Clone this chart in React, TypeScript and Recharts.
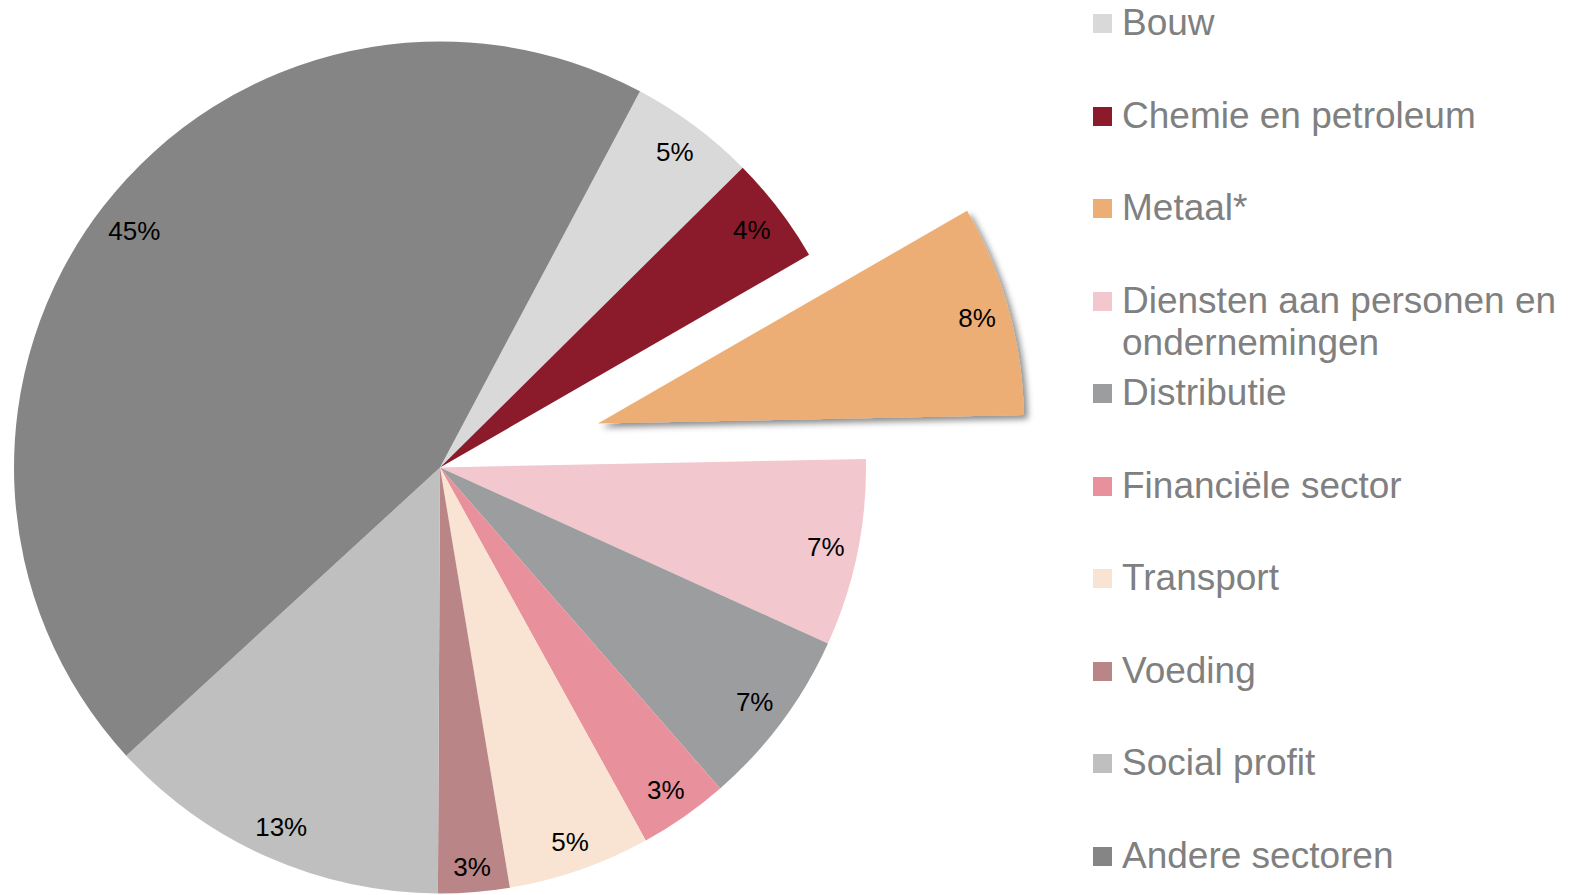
import React from 'react';
import { PieChart, Pie, Cell, Legend } from 'recharts';

const categories = [
  'Bouw',
  'Chemie en petroleum',
  'Metaal*',
  'Diensten aan personen en ondernemingen',
  'Distributie',
  'Financiële sector',
  'Transport',
  'Voeding',
  'Social profit',
  'Andere sectoren',
];
const shares = [4.8, 4.1, 8.0, 7.1, 6.8, 3.4, 5.4, 2.7, 13.1, 44.6];
const colors = [
  '#D9D9D9',
  '#8B1A2B',
  '#EDAE74',
  '#F2C7CE',
  '#9C9D9F',
  '#E8919C',
  '#F9E4D3',
  '#B98586',
  '#BFBFBF',
  '#858585',
];
const explodedName = 'Metaal*';

const data = categories.map((name, i) => ({ name, value: shares[i] }));

const W = 1576;
const H = 895;
const CX = 440;
const CY = 467.5;
const R = 426;
const START = 62;
const END = START - 360;
const EXPLODE = 164;
const LABEL_INNER = 415;
const LABEL_FS = 26;
const RAD = Math.PI / 180;
const FONT = '"Liberation Sans", Arial, Helvetica, sans-serif';

const explodedIndex = categories.indexOf(explodedName);
const total = shares.reduce((a, b) => a + b, 0);
const before = shares.slice(0, explodedIndex).reduce((a, b) => a + b, 0);
const explodedMid = START - ((before + shares[explodedIndex] / 2) / total) * 360;
const ECX = CX + EXPLODE * Math.cos(explodedMid * RAD);
const ECY = CY - EXPLODE * Math.sin(explodedMid * RAD);

const textWidth = (s: string) =>
  s.split('').reduce((a, ch) => a + (ch === '%' ? 0.889 : 0.556), 0) * LABEL_FS;

const makeLabel = (onlyExploded: boolean) => (props: any) => {
  const { cx, cy, midAngle, percent, index } = props;
  const isExp = index === explodedIndex;
  if (onlyExploded !== isExp) return <g />;
  const txt = `${Math.round(percent * 100)}%`;
  const ux = Math.cos(-midAngle * RAD);
  const uy = Math.sin(-midAngle * RAD);
  const ext = (textWidth(txt) / 2) * Math.abs(ux) + (LABEL_FS / 2) * Math.abs(uy);
  const r = LABEL_INNER - ext;
  const x = cx + r * ux;
  const y = cy + r * uy;
  return (
    <text
      x={x}
      y={y}
      textAnchor="middle"
      dominantBaseline="central"
      fill="#000"
      fontSize={LABEL_FS}
      fontFamily={FONT}
    >
      {txt}
    </text>
  );
};

const LegendBox = () => (
  <div style={{ position: 'relative', width: 483, height: H, fontFamily: FONT }}>
    {categories.map((name, i) => {
      const c = 23.5 + i * 92.56;
      return (
        <div key={name}>
          <div
            style={{
              position: 'absolute',
              left: 0,
              top: c - 9.5,
              width: 19,
              height: 19,
              background: colors[i],
            }}
          />
          <div
            style={{
              position: 'absolute',
              left: 29,
              top: c - 21.5,
              width: 450,
              fontSize: 37,
              lineHeight: '42px',
              color: '#808080',
              whiteSpace: 'normal',
            }}
          >
            {name}
          </div>
        </div>
      );
    })}
  </div>
);

export default function App() {
  return (
    <div style={{ position: 'absolute', left: 0, top: 0, width: W, height: H, background: '#fff' }}>
      <PieChart width={W} height={H} margin={{ top: 0, right: 0, bottom: 0, left: 0 }}>
        <defs>
          <filter id="sliceShadow" x="-20%" y="-20%" width="140%" height="140%">
            <feDropShadow dx="4" dy="4" stdDeviation="3" floodColor="#000" floodOpacity="0.45" />
          </filter>
        </defs>
        <Pie
          data={data}
          dataKey="value"
          nameKey="name"
          cx={CX}
          cy={CY}
          outerRadius={R}
          startAngle={START}
          endAngle={END}
          stroke="none"
          labelLine={false}
          label={makeLabel(false)}
          isAnimationActive={false}
        >
          {data.map((d, i) => (
            <Cell key={d.name} fill={i === explodedIndex ? 'none' : colors[i]} stroke="none" />
          ))}
        </Pie>
        <Pie
          data={data}
          dataKey="value"
          nameKey="name"
          cx={ECX}
          cy={ECY}
          outerRadius={R}
          startAngle={START}
          endAngle={END}
          stroke="none"
          labelLine={false}
          label={makeLabel(true)}
          isAnimationActive={false}
        >
          {data.map((d, i) => (
            <Cell
              key={d.name}
              fill={i === explodedIndex ? colors[i] : 'none'}
              stroke="none"
              filter={i === explodedIndex ? 'url(#sliceShadow)' : undefined}
            />
          ))}
        </Pie>
        <Legend
          content={() => <LegendBox />}
          wrapperStyle={{ position: 'absolute', left: 1093, top: 0, width: 483, height: H }}
        />
      </PieChart>
    </div>
  );
}
